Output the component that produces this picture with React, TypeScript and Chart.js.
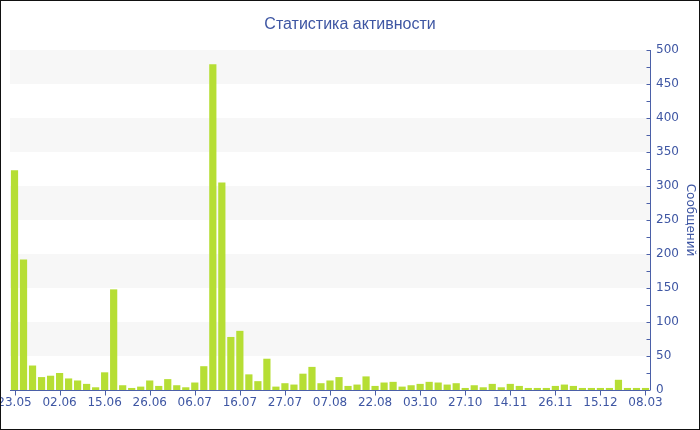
import React, { useEffect, useRef } from "react";
import { Chart, registerables } from "chart.js";

Chart.register(...registerables);

const chartTitle = "Статистика активности";
const yAxisTitle = "Сообщений";
const tickLabels = ["23.05", "02.06", "15.06", "26.06", "06.07", "16.07", "27.07", "07.08", "22.08", "03.10", "27.10", "14.11", "26.11", "15.12", "08.03"];
const labelStep = 5;
const values = [
  323, 192, 36, 19, 21, 25, 17, 14, 9, 4,
  26, 148, 7, 3, 5, 14, 6, 16, 7, 4,
  11, 35, 479, 305, 78, 87, 23, 13, 46, 5,
  10, 8, 24, 34, 10, 14, 19, 6, 8, 20,
  6, 11, 12, 5, 7, 9, 12, 11, 8, 10,
  3, 7, 4, 9, 4, 9, 6, 3, 3, 3,
  6, 8, 6, 3, 3, 3, 3, 15, 3, 3, 3,
];
const yMin = 0;
const yMax = 500;
const yStep = 50;
const yMinorStep = 25;

const categories = values.map((_, i) => (i % labelStep === 0 ? tickLabels[i / labelStep] : ""));

const FONT = "'DejaVu Sans', Verdana, sans-serif";
const TITLE_FONT = "'Liberation Sans', Arial, sans-serif";
const TEXT = "#3e56a3";
const AXIS = "#4b60a8";
const BAR = "#b6de34";
const BAND = "#f7f7f7";

const decor = {
  id: "decor",
  beforeDraw(chart: any) {
    const { ctx, chartArea, scales } = chart;
    const y = scales.y;
    ctx.save();
    ctx.fillStyle = "#ffffff";
    ctx.fillRect(0, 0, chart.width, chart.height);
    ctx.fillStyle = BAND;
    for (let v = yMin + yStep; v < yMax; v += 2 * yStep) {
      const top = y.getPixelForValue(v + yStep);
      const bot = y.getPixelForValue(v);
      ctx.fillRect(chartArea.left, top, chartArea.right - chartArea.left, bot - top);
    }
    ctx.fillStyle = TEXT;
    ctx.font = `16px ${TITLE_FONT}`;
    ctx.textAlign = "center";
    ctx.textBaseline = "middle";
    ctx.fillText(chartTitle, chart.width / 2, 25);
    ctx.restore();
  },
  afterDraw(chart: any) {
    const { ctx, chartArea, scales } = chart;
    const x = scales.x;
    const y = scales.y;
    ctx.save();
    ctx.strokeStyle = AXIS;
    ctx.lineWidth = 1;
    ctx.beginPath();
    const ax = Math.round(chartArea.right) + 0.5;
    ctx.moveTo(ax, chartArea.top);
    ctx.lineTo(ax, chartArea.bottom);
    for (let v = yMin; v <= yMax; v += yMinorStep) {
      const py = Math.round(y.getPixelForValue(v)) + 0.5;
      ctx.moveTo(ax - 4, py);
      ctx.lineTo(ax, py);
    }
    const ay = Math.round(chartArea.bottom) + 0.5;
    ctx.moveTo(chartArea.left, ay);
    ctx.lineTo(chartArea.right, ay);
    for (let i = 0; i < values.length; i += labelStep) {
      const px = Math.round(x.getPixelForValue(i)) + 0.5;
      ctx.moveTo(px, ay);
      ctx.lineTo(px, ay + 5);
    }
    ctx.stroke();
    ctx.strokeStyle = "#111111";
    ctx.strokeRect(0.5, 0.5, chart.width - 1, chart.height - 1);
    ctx.restore();
  },
};

export default function App() {
  const ref = useRef<HTMLCanvasElement | null>(null);
  useEffect(() => {
    document.body.style.margin = "0";
    const chart = new Chart(ref.current as HTMLCanvasElement, {
      type: "bar",
      data: {
        labels: categories,
        datasets: [
          {
            data: values,
            backgroundColor: BAR,
            borderWidth: 0,
            barPercentage: 0.8,
            categoryPercentage: 1,
          },
        ],
      },
      options: {
        animation: false,
        responsive: false,
        maintainAspectRatio: false,
        layout: { padding: { left: 10, right: 0, top: 50, bottom: 0 } },
        plugins: {
          legend: { display: false },
          tooltip: { enabled: false },
          title: { display: false },
        },
        scales: {
          x: {
            grid: { display: false, drawTicks: false },
            border: { display: false },
            afterBuildTicks: (scale: any) => {
              scale.ticks = scale.ticks.filter((t: any) => t.value % labelStep === 0);
            },
            afterFit: (scale: any) => {
              scale.height = 40;
              scale.paddingLeft = 0;
              scale.paddingRight = 0;
            },
            ticks: {
              autoSkip: false,
              maxRotation: 0,
              minRotation: 0,
              padding: 6,
              color: TEXT,
              font: { family: FONT, size: 12 },
              callback: (v: any) => categories[v as number],
            },
          },
          y: {
            position: "right",
            min: yMin,
            max: yMax,
            grid: { display: false, drawTicks: false },
            border: { display: false },
            afterFit: (scale: any) => {
              scale.width = 50;
              scale.paddingTop = 0;
              scale.paddingBottom = 0;
            },
            ticks: {
              stepSize: yStep,
              padding: 6,
              color: TEXT,
              font: { family: FONT, size: 12 },
            },
            title: {
              display: true,
              text: yAxisTitle,
              color: TEXT,
              font: { family: FONT, size: 12 },
              padding: { top: 3, bottom: 0 },
            },
          },
        },
      },
      plugins: [decor],
    });
    return () => chart.destroy();
  }, []);
  return (
    <div style={{ width: 700, height: 430 }}>
      <canvas ref={ref} width={700} height={430} style={{ display: "block", width: 700, height: 430 }} />
    </div>
  );
}
